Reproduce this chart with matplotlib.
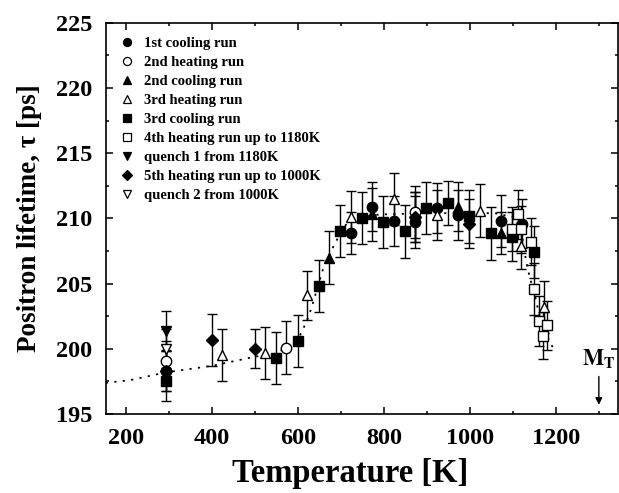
import numpy as np
import matplotlib
matplotlib.use('Agg')
import matplotlib.pyplot as plt
from matplotlib.lines import Line2D

plt.rcParams['font.family'] = ['Liberation Serif', 'DejaVu Serif']
plt.rcParams['font.weight'] = 'bold'
plt.rcParams['mathtext.fontset'] = 'stix'

# data: temperature [K], lifetime [ps], error [ps]
t_cool1 = [293, 723, 773, 823, 873, 923, 973, 1073, 1122]
tau_cool1 = [198.3, 208.9, 210.9, 209.8, 209.75, 210.8, 210.25, 209.8, 209.6]
err_cool1 = [1.5, 1.6, 1.9, 1.9, 2.0, 1.9, 1.9, 2.0, 1.9]

t_heat2 = [293, 573, 873]
tau_heat2 = [199.1, 200.1, 210.5]
err_heat2 = [1.5, 2.0, 2.0]

t_cool2 = [673, 773, 873, 973, 1073]
tau_cool2 = [207.0, 210.3, 210.1, 210.9, 208.9]
err_cool2 = [2.0, 2.0, 1.9, 1.9, 1.6]

t_heat3 = [423, 523, 622, 723, 823, 923, 1023, 1120, 1173]
tau_heat3 = [199.5, 199.7, 204.1, 210.1, 211.5, 210.25, 210.6, 207.9, 203.2]
err_heat3 = [2.0, 2.0, 1.9, 2.0, 2.0, 1.9, 2.0, 1.8, 2.0]

t_cool3 = [293, 548, 599, 648, 698, 748, 798, 848, 898, 948, 998, 1048, 1098, 1150]
tau_cool3 = [197.5, 199.3, 200.6, 204.8, 209.05, 210.05, 209.7, 209.0, 210.8, 211.2, 210.15, 208.85, 208.6, 207.4]
err_cool3 = [1.5, 2.0, 2.0, 2.0, 2.0, 2.0, 2.0, 2.0, 2.0, 1.7, 2.0, 2.0, 1.9, 2.0]

t_heat4 = [1099, 1111, 1120, 1141, 1150, 1161, 1170, 1180]
tau_heat4 = [209.2, 210.3, 209.15, 208.2, 204.6, 202.15, 201.0, 201.8]
err_heat4 = [1.7, 1.9, 1.8, 1.8, 2.0, 1.9, 1.8, 1.9]

t_q1 = [293]
tau_q1 = [201.4]
err_q1 = [1.5]

t_heat5 = [293, 401, 501, 873, 998]
tau_heat5 = [198.3, 200.7, 200.0, 210.1, 209.6]
err_heat5 = [1.5, 2.0, 1.5, 1.9, 1.9]

t_q2 = [293]
tau_q2 = [200.0]
err_q2 = [1.5]

# dotted model curve
t_fit = [153, 209, 293, 400, 500, 550, 600, 620, 632, 659, 686, 713, 750, 790, 900,
         1000, 1058, 1100, 1120, 1131, 1138, 1151, 1161, 1181, 1193]
tau_fit = [197.4, 197.6, 198.2, 198.7, 199.4, 199.65, 200.7, 202.1, 203.2, 206.2, 208.1, 209.6,
           210.1, 210.3, 210.4, 210.4, 210.4, 210.1, 208.8, 206.7, 205.65, 204.1, 202.7, 200.9, 200.1]

series = [
    ('1st cooling run', t_cool1, tau_cool1, err_cool1, 'o', 'black'),
    ('2nd heating run', t_heat2, tau_heat2, err_heat2, 'o', 'white'),
    ('2nd cooling run', t_cool2, tau_cool2, err_cool2, '^', 'black'),
    ('3rd heating run', t_heat3, tau_heat3, err_heat3, '^', 'white'),
    ('3rd cooling run', t_cool3, tau_cool3, err_cool3, 's', 'black'),
    ('4th heating run up to 1180K', t_heat4, tau_heat4, err_heat4, 's', 'white'),
    ('quench 1 from 1180K', t_q1, tau_q1, err_q1, 'v', 'black'),
    ('5th heating run up to 1000K', t_heat5, tau_heat5, err_heat5, 'D', 'black'),
    ('quench 2 from 1000K', t_q2, tau_q2, err_q2, 'v', 'white'),
]

fig = plt.figure(figsize=(6.19, 4.93), dpi=100)
ax = fig.add_axes([0.171, 0.160, 0.827, 0.794])

ax.plot(t_fit, tau_fit, color='black', linestyle=(0, (1.2, 3.5)), linewidth=1.3, zorder=1)

handles = []
for label, t, tau, err, mk, fc in series:
    ms = 6 if mk == 'D' else 7.5
    ax.errorbar(t, tau, yerr=err, fmt=mk, color='black', mfc=fc, mec='black',
                ms=ms, mew=1.0, ecolor='black', elinewidth=1.0, capsize=3.5, capthick=1.0, zorder=3)
    handles.append(Line2D([], [], linestyle='none', marker=mk, mfc=fc, mec='black',
                          ms=(4.8 if mk == 'D' else 5.8), mew=0.9, label=label))

leg = ax.legend(handles=handles, loc='upper left', frameon=False, fontsize=10.5,
                handlelength=1.0, handletextpad=0.7, labelspacing=0.4,
                borderaxespad=0.45, borderpad=0.5)
for txt in leg.get_texts():
    txt.set_fontweight('bold')

# M_T arrow
ax.annotate('', xy=(1300, 195.5), xytext=(1300, 198.1),
            arrowprops=dict(arrowstyle='-|>', color='black', lw=1.0, mutation_scale=10))
ax.text(1300, 198.4, r'$\mathbf{M}_\mathbf{T}$', ha='center', va='bottom', fontsize=16)

ax.set_xlim(153, 1344)
ax.set_ylim(195, 225)
ax.set_xticks(np.arange(200, 1201, 200))
ax.set_xticks(np.arange(300, 1301, 200), minor=True)
ax.set_yticks(np.arange(195, 226, 5))
ax.set_yticks(np.arange(197.5, 225, 5), minor=True)
ax.tick_params(which='both', direction='in', top=True, right=True, width=1.1)
ax.tick_params(which='major', length=5, labelsize=17.5)
ax.tick_params(axis='x', which='major', pad=10)
ax.tick_params(axis='y', which='major', pad=10)
ax.tick_params(which='minor', length=2.5)
for lab in ax.get_xticklabels() + ax.get_yticklabels():
    lab.set_fontweight('bold')
for sp in ax.spines.values():
    sp.set_linewidth(1.2)

ax.set_xlabel('Temperature [K]', fontsize=23.5, fontweight='bold')
ax.xaxis.set_label_coords(0.477, -0.113)
ax.set_ylabel('Positron lifetime, τ [ps]', fontsize=19.5, fontweight='bold', labelpad=10)

fig.savefig('out.png', dpi=100)
